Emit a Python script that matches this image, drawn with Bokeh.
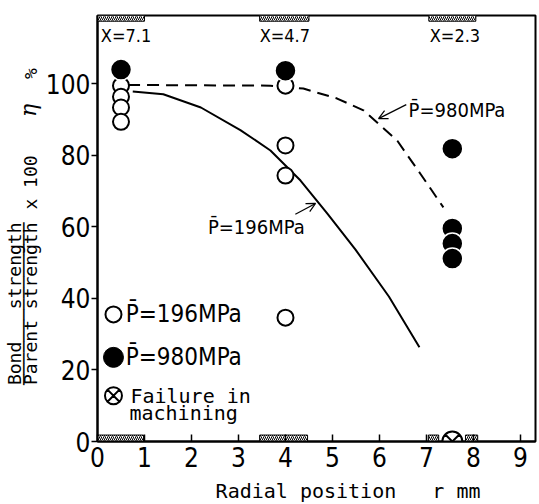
import math
from bokeh.plotting import figure
from bokeh.layouts import row, column
from bokeh.models import Arrow, OpenHead, Range1d, FixedTicker
from bokeh.core.properties import value
from bokeh.embed import file_html
from bokeh.resources import INLINE

# ---------------- data ----------------
open_x = [0.5, 0.5, 0.5, 0.5, 4.0, 4.0, 4.0, 4.0]
open_y = [99.4, 96.3, 93.3, 89.3, 99.4, 82.7, 74.3, 34.6]
filled_x = [0.5, 4.0, 7.55, 7.55, 7.55, 7.55]
filled_y = [103.9, 103.6, 81.8, 59.5, 55.3, 51.1]
fail_x = [7.55]
fail_y = [0.0]

curve196_x = [0.75, 1.4, 2.2, 3.04, 3.68, 4.32, 4.9, 5.49, 6.2, 6.85]
curve196_y = [97.8, 97.0, 93.3, 87.0, 81.3, 72.9, 63.5, 53.6, 40.5, 26.3]
curve980_x = [0.65, 3.68, 4.38, 5.1, 5.66, 6.38, 6.87, 7.36]
curve980_y = [99.6, 99.4, 98.6, 95.8, 92.5, 84.0, 74.8, 65.4]

zone_labels = ["X=7.1", "X=4.7", "X=2.3"]
zone_label_x = [0.07, 3.45, 7.07]
zone_label_y = [113.3, 113.3, 113.3]
top_zone_left = [0.0, 3.45, 7.05]
top_zone_right = [1.0, 4.5, 8.05]
bottom_zone_left = [0.0, 3.45, 7.04, 7.83]
bottom_zone_right = [0.98, 4.47, 7.26, 8.09]

x_ticks = [0, 1, 2, 3, 4, 5, 6, 7, 8, 9]
y_ticks = [0, 20, 40, 60, 80, 100]

legend_x = [0.34, 0.34, 0.34]
legend_y = [35.5, 23.5, 12.8]
legend_labels = ["P\u0304=196MPa", "P\u0304=980MPa"]

PB = "P\u0304"
mono = "DejaVu Sans Mono"
tick_font = "DejaVu Sans Condensed"

LEFT_W = 42

# ---------------- main figure ----------------
p = figure(width=539 - LEFT_W, height=476, output_backend="svg", toolbar_location=None,
           x_range=Range1d(0, 9.32), y_range=Range1d(0, 119))
p.min_border_left = 96 - LEFT_W
p.min_border_right = 4
p.min_border_top = 15
p.min_border_bottom = 35
p.xgrid.visible = False
p.ygrid.visible = False
p.background_fill_color = "white"
p.border_fill_color = "white"
p.outline_line_color = "black"
p.outline_line_width = 2

for ax in (p.xaxis[0], p.yaxis[0]):
    ax.axis_line_width = 2
    ax.axis_line_color = "black"
    ax.major_tick_line_width = 1.5
    ax.minor_tick_line_color = None
    ax.major_label_text_font = tick_font
    ax.major_label_text_font_size = "26px"
    ax.major_label_text_color = "black"

p.xaxis.ticker = FixedTicker(ticks=x_ticks)
p.yaxis.ticker = FixedTicker(ticks=y_ticks)
p.xaxis.major_tick_in = 7
p.xaxis.major_tick_out = 0
p.xaxis.major_label_standoff = 5
p.yaxis.major_tick_in = 0
p.yaxis.major_tick_out = 6
p.yaxis.major_label_standoff = 1

# hatched zones
p.quad(left=top_zone_left, right=top_zone_right, top=119, bottom=117.4,
       fill_color="white", line_color="black", line_width=1,
       hatch_pattern="/", hatch_color="black", hatch_scale=4, hatch_weight=1)
p.quad(left=bottom_zone_left, right=bottom_zone_right, top=1.8, bottom=0,
       fill_color="white", line_color="black", line_width=1,
       hatch_pattern="/", hatch_color="black", hatch_scale=4, hatch_weight=1)

# curves
p.line(curve196_x, curve196_y, line_color="black", line_width=2)
p.line(curve980_x, curve980_y, line_color="black", line_width=2, line_dash="12 7")

# points
p.scatter(open_x, open_y, size=16, fill_color="white", line_color="black", line_width=2)
p.scatter(filled_x, filled_y, size=21, fill_color="black", line_color="white", line_width=1.5)
p.scatter(fail_x, fail_y, marker="circle_x", size=20, fill_color="white",
          line_color="black", line_width=2)

# zone labels
p.text(zone_label_x, zone_label_y, text=zone_labels, text_font=value(tick_font),
       text_font_size="18px", text_baseline="middle", text_color="black")

# legend
p.scatter([legend_x[0]], [legend_y[0]], size=16, fill_color="white", line_color="black", line_width=2)
p.scatter([legend_x[1]], [legend_y[1]], size=20, fill_color="black", line_color="black")
p.scatter([legend_x[2]], [legend_y[2]], marker="circle_x", size=17, fill_color="white",
          line_color="black", line_width=2)
p.text([0.6, 0.6], [legend_y[0], legend_y[1]], text=legend_labels, text_font=value(tick_font),
       text_font_size="24px", text_baseline="middle", text_color="black")
p.text([0.7, 0.68], [legend_y[2], 7.9], text=["Failure in", "machining"],
       text_font=value(mono), text_font_size="20px",
       text_baseline="middle", text_color="black")

# curve annotations
p.text([6.62], [92.5], text=[PB + "=980MPa"], text_font=value(tick_font),
       text_font_size="20px", text_baseline="middle", text_color="black")
p.text([2.35], [59.8], text=[PB + "=196MPa"], text_font=value(tick_font),
       text_font_size="20px", text_baseline="middle", text_color="black")
p.add_layout(Arrow(end=OpenHead(size=9, line_width=1.2), x_start=6.57, y_start=94.1,
                   x_end=5.98, y_end=90.2, line_width=1.2))
p.add_layout(Arrow(end=OpenHead(size=9, line_width=1.2), x_start=4.21, y_start=63.5,
                   x_end=4.64, y_end=66.5, line_width=1.2))

# ---------------- strips for axis titles ----------------
def strip(w, h):
    f = figure(width=w, height=h, output_backend="svg", toolbar_location=None,
               x_range=Range1d(0, w), y_range=Range1d(0, h),
               x_axis_type=None, y_axis_type=None)
    f.min_border_left = f.min_border_right = f.min_border_top = f.min_border_bottom = 0
    f.outline_line_color = None
    f.background_fill_color = "white"
    f.border_fill_color = "white"
    return f

ang = math.pi / 2
left = strip(LEFT_W, 504)
left.text([14, 22.5, 29.5], [282, 282, 282],
          text=["Bond\u00a0\u00a0\u00a0strength", "\u2500" * 15, "Parent\u00a0strength"],
          angle=ang, text_font=value(mono), text_font_size="18px",
          text_align="right", text_baseline="middle", text_color="black")
left.text([29.5, 29.5], [322, 431], text=["x\u00a0100", "%"],
          angle=ang, text_font=value(mono), text_font_size="18px",
          text_align="center", text_baseline="middle", text_color="black")
left.text([27.5], [394], text=["\u03b7"], angle=ang, text_font=value("DejaVu Serif"),
          text_font_style="italic", text_font_size="22px",
          text_align="center", text_baseline="middle", text_color="black")

bottom = strip(539 - LEFT_W, 28)
bottom.text([134], [14], text=["Radial\u00a0position\u00a0\u00a0\u00a0r\u00a0mm"],
            text_font=value(mono), text_font_size="20px",
            text_align="left", text_baseline="middle", text_color="black")

layout = row(left, column(p, bottom, spacing=0), spacing=0)
open("out.html", "w").write(file_html(layout, INLINE))
